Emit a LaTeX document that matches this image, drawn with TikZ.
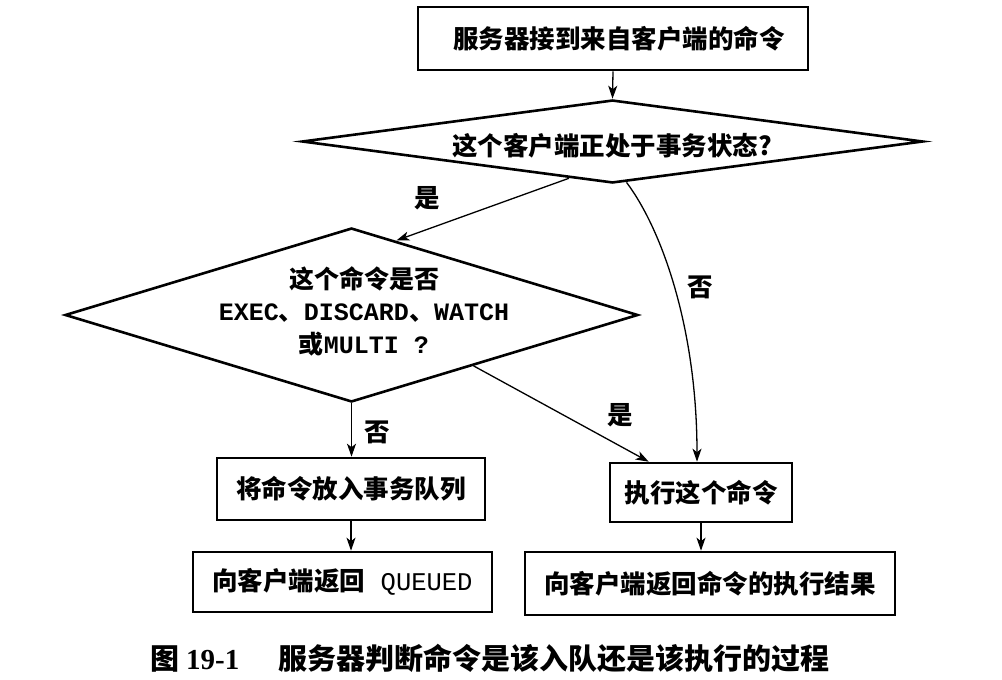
\documentclass[tikz,border=0pt]{standalone}
\usepackage{fontspec}
\setmainfont{Liberation Serif}
\newfontfamily\cjk{Noto Sans CJK SC}
\newfontfamily\mono{Liberation Mono}
\usetikzlibrary{arrows.meta,shapes.geometric,calc}
\newcommand\cjkfont{\cjk\bfseries\fontsize{25.5}{30}\selectfont}
\newcommand\capfont{\bfseries\fontsize{29}{32}\selectfont}
\tikzset{
  box/.style={draw, line width=2.6pt, rectangle, inner sep=0pt, font=\cjkfont},
  dia/.style={draw, line width=2.6pt, diamond, inner sep=0pt},
  conn/.style={line width=1.3pt, -{Stealth[length=13pt,width=9pt,inset=3.5pt]}},
  lbl/.style={font=\cjkfont, inner sep=0pt},
  lbltwo/.style={font=\cjk\bfseries\fontsize{25}{32.5}\selectfont, inner sep=0pt, align=center},
}
\begin{document}
\begin{tikzpicture}[x=1pt,y=-1pt]
\useasboundingbox (0,0) rectangle (1002,680);
\fill[white] (0,0) rectangle (1002,680);

\node[box, minimum width=390pt, minimum height=63pt] (top) at (613,38.5) {\hspace{12pt}服务器接到来自客户端的命令};
\node[dia, minimum width=621pt, minimum height=83pt] (d1) at (612.5,141.5) {};
\node[lbl] (t1) at (612,146) {这个客户端正处于事务状态?};
\node[dia, minimum width=573pt, minimum height=174pt] (d2) at (351.5,315) {};
\node[lbltwo] (t2) at (364,311) {这个命令是否\\{\mono EXEC}、{\mono DISCARD}、{\mono WATCH}\\或{\mono MULTI ?}};

\node[box, minimum width=268pt, minimum height=62pt] (queue) at (351,489) {将命令放入事务队列};
\node[box, minimum width=182pt, minimum height=59pt] (exec) at (701,492.5) {执行这个命令};
\node[box, minimum width=299pt, minimum height=60pt] (qd) at (342.5,582) {向客户端返回{\mono\mdseries\ QUEUED}};
\node[box, minimum width=370pt, minimum height=63pt] (res) at (710,583.5) {向客户端返回命令的执行结果};

\draw[conn] (top.south) -- (d1.north);
\draw[conn] ($(d1.south)!0.14!(d1.west)$) -- ($(d2.north)!0.156!(d2.east)$);
\draw[conn] ($(d1.south)!0.045!(d1.east)$) .. controls +(36,48) and +(0,-132) .. ([xshift=-4pt]exec.north);
\draw[conn] ($(d2.south)!0.424!(d2.east)$) -- ([xshift=40pt]exec.north west);
\draw[conn] (d2.south) -- (d2.south |- queue.north);
\draw[conn] (queue.south) -- (queue.south |- qd.north);
\draw[conn] (exec.south) -- (exec.south |- res.north);

\node[lbl] (y1) at (427,198) {是};
\node[lbl] (n1) at (700,287) {否};
\node[lbl] (y2) at (620,415) {是};
\node[lbl] (n2) at (377,432) {否};

\node[anchor=west, inner sep=0pt] (cap) at (150,658) {{\cjk\capfont 图}\hspace{7pt}{\capfont 19-1}\hspace{39pt}{\cjk\capfont 服务器判断命令是该入队还是该执行的过程}};
\end{tikzpicture}
\end{document}
